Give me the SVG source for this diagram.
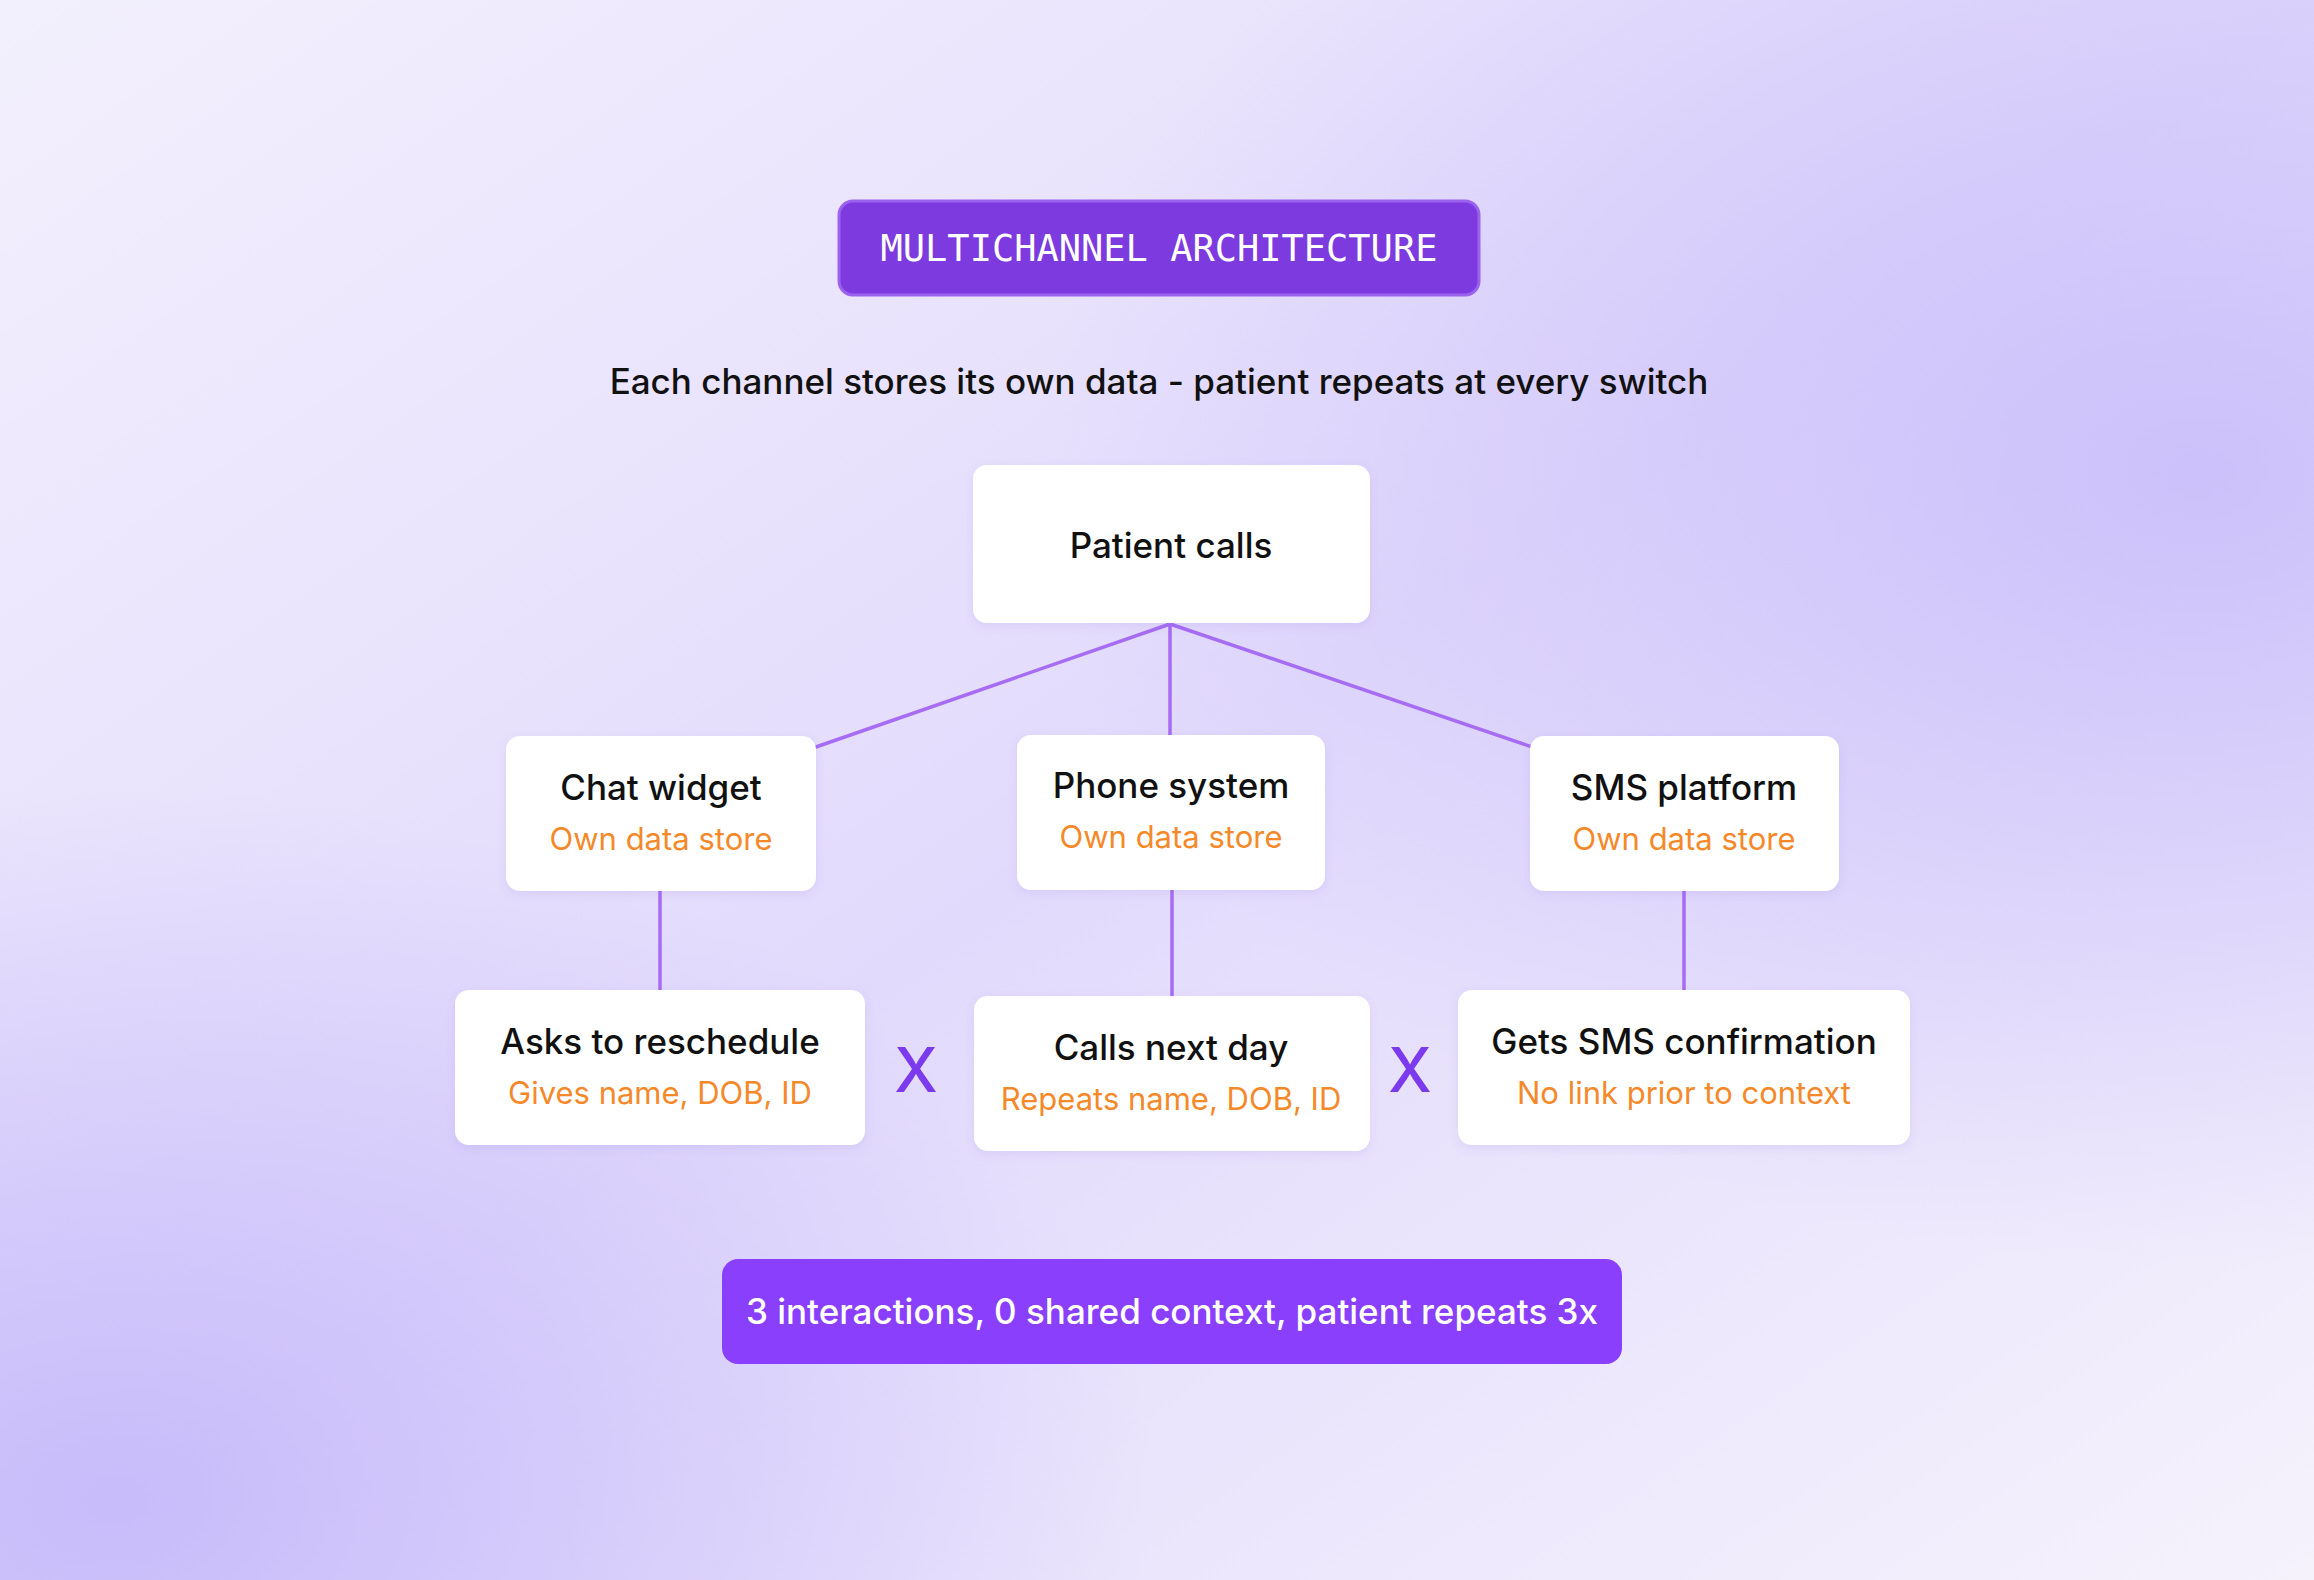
<svg xmlns="http://www.w3.org/2000/svg" width="2314" height="1580" viewBox="0 0 2314 1580">
<defs>
<linearGradient id="bg" x1="0" y1="0" x2="1" y2="1">
<stop offset="0" stop-color="#f3f0fd"/>
<stop offset="0.5" stop-color="#e2dafc"/>
<stop offset="1" stop-color="#f5f2fc"/>
</linearGradient>
<radialGradient id="g1" cx="0.95" cy="0.3" r="0.5"><stop offset="0" stop-color="#c9bdfa" stop-opacity="0.9"/><stop offset="1" stop-color="#c9bdfa" stop-opacity="0"/></radialGradient>
<radialGradient id="g2" cx="0.05" cy="0.95" r="0.45"><stop offset="0" stop-color="#c5b8fa" stop-opacity="0.9"/><stop offset="1" stop-color="#c5b8fa" stop-opacity="0"/></radialGradient>
<filter id="sh" x="-10%" y="-10%" width="120%" height="130%"><feDropShadow dx="0" dy="3" stdDeviation="5" flood-color="#7b5bd6" flood-opacity="0.12"/></filter>
</defs>
<style>
.card{fill:#fff;filter:url(#sh)}
.t{font-family:Inter,"Noto Sans",sans-serif;font-size:35px;font-weight:500;fill:#111;text-anchor:middle}
.s{font-family:Inter,"Noto Sans",sans-serif;font-size:31px;fill:#f5892a;text-anchor:middle}
.x{font-family:Inter,"Noto Sans",sans-serif;font-size:62px;font-weight:500;fill:#7c3aed;text-anchor:middle}
.ln{stroke:#a66cf3;stroke-width:3.5;fill:none}
</style>
<rect width="2314" height="1580" fill="url(#bg)"/>
<rect width="2314" height="1580" fill="url(#g1)"/>
<rect width="2314" height="1580" fill="url(#g2)"/>
<g id="title">
<rect x="839" y="201" width="640" height="94" rx="14" fill="#7c3adf" stroke="#9b62f0" stroke-width="3"/>
<text x="1159" y="261" font-family="'DejaVu Sans Mono','Liberation Mono',monospace" font-size="37" fill="#fff" text-anchor="middle">MULTICHANNEL ARCHITECTURE</text>
</g>
<text x="1159" y="394" class="t">Each channel stores its own data - patient repeats at every switch</text>
<g id="connectors">
<path class="ln" d="M1170 624 L813 748 M1170 624 L1170 735 M1170 624 L1535 748 M660 891 L660 990 M1172 890 L1172 996 M1684 891 L1684 990"/>
</g>
<g id="patient"><rect class="card" x="973" y="465" width="397" height="158" rx="14"/><text x="1171" y="558" class="t">Patient calls</text></g>
<g id="chat"><rect class="card" x="506" y="736" width="310" height="155" rx="14"/><text x="661" y="800" class="t">Chat widget</text><text x="661" y="850" class="s">Own data store</text></g>
<g id="phone"><rect class="card" x="1017" y="735" width="308" height="155" rx="14"/><text x="1171" y="798" class="t">Phone system</text><text x="1171" y="848" class="s">Own data store</text></g>
<g id="sms"><rect class="card" x="1530" y="736" width="309" height="155" rx="14"/><text x="1684" y="800" class="t">SMS platform</text><text x="1684" y="850" class="s">Own data store</text></g>
<g id="asks"><rect class="card" x="455" y="990" width="410" height="155" rx="14"/><text x="660" y="1054" class="t">Asks to reschedule</text><text x="660" y="1104" class="s">Gives name, DOB, ID</text></g>
<g id="callsnext"><rect class="card" x="974" y="996" width="396" height="155" rx="14"/><text x="1171" y="1060" class="t">Calls next day</text><text x="1171" y="1110" class="s">Repeats name, DOB, ID</text></g>
<g id="gets"><rect class="card" x="1458" y="990" width="452" height="155" rx="14"/><text x="1684" y="1054" class="t">Gets SMS confirmation</text><text x="1684" y="1104" class="s">No link prior to context</text></g>
<text x="916" y="1092" class="x">X</text>
<text x="1410" y="1092" class="x">X</text>
<g id="summary"><rect x="722" y="1259" width="900" height="105" rx="16" fill="#8a3ffc"/><text x="1172" y="1324" class="t" style="fill:#fff">3 interactions, 0 shared context, patient repeats 3x</text></g>
</svg>
